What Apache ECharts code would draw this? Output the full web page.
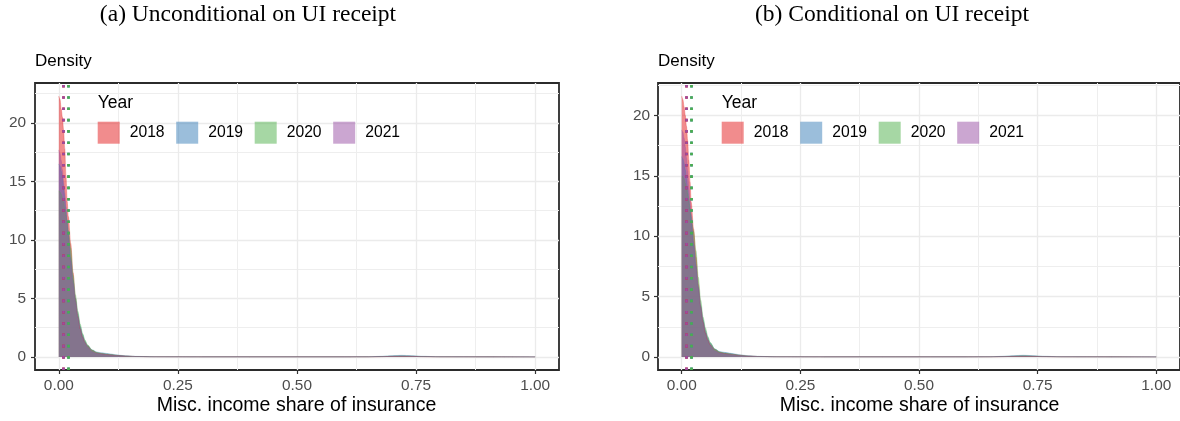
<!DOCTYPE html>
<html><head><meta charset="utf-8">
<script src="https://cdn.jsdelivr.net/npm/echarts@6/dist/echarts.min.js"></script>
<style>html,body{margin:0;padding:0;background:#fff}#c{width:1180px;height:421px}</style>
</head><body><div id="c"></div><script>
// ---------- data ----------
const years = ['2018', '2019', '2020', '2021'];
const panelTitles = ['(a) Unconditional on UI receipt', '(b) Conditional on UI receipt'];
const xTitle = 'Misc. income share of insurance';
const yTitle = 'Density';
const legendTitle = 'Year';
const xTicks = [0, 0.25, 0.5, 0.75, 1];
const xMinor = [0.125, 0.375, 0.625, 0.875];
const yTicks = [0, 5, 10, 15, 20];
const yMinor = [2.5, 7.5, 12.5, 17.5, 22.5];

// evaluation points of the density estimates
const xGrid = [0, 0.0025, 0.005, 0.0075, 0.01, 0.0125, 0.015, 0.0175, 0.02, 0.025, 0.03, 0.035, 0.04, 0.045, 0.05, 0.055, 0.06, 0.07, 0.08, 0.09, 0.1, 0.11, 0.12, 0.14, 0.16, 0.2, 0.3, 0.4, 0.5, 0.6, 0.65, 0.68, 0.7, 0.72, 0.74, 0.76, 0.8, 0.9, 1.0];

// panel (a): unconditional
const a2018 = [22.3, 22.0, 21.2, 20.5, 19.4, 17.8, 15.5, 13.3, 12.0, 9.7, 7.2, 5.0, 3.5, 2.4, 1.7, 1.25, 0.95, 0.55, 0.35, 0.28, 0.22, 0.18, 0.14, 0.08, 0.04, 0.02, 0.01, 0.01, 0.01, 0.01, 0.015, 0.03, 0.05, 0.06, 0.05, 0.03, 0.015, 0.01, 0.01];
const a2019 = [16.5, 16.3, 15.9, 15.3, 14.5, 13.6, 12.6, 11.5, 10.5, 8.5, 6.6, 5.0, 3.7, 2.6, 1.9, 1.35, 1.0, 0.6, 0.42, 0.35, 0.3, 0.25, 0.18, 0.1, 0.05, 0.02, 0.01, 0.01, 0.01, 0.01, 0.02, 0.06, 0.11, 0.14, 0.11, 0.06, 0.02, 0.01, 0.005];
const a2020 = [14.2, 14.1, 13.9, 13.6, 13.2, 12.7, 12.1, 11.5, 10.8, 9.3, 7.0, 5.3, 3.9, 2.8, 2.0, 1.45, 1.05, 0.6, 0.38, 0.3, 0.25, 0.2, 0.15, 0.08, 0.04, 0.02, 0.01, 0.01, 0.01, 0.01, 0.015, 0.04, 0.07, 0.09, 0.07, 0.04, 0.015, 0.01, 0.01];
const a2021 = [17.7, 17.4, 16.8, 16.0, 15.0, 14.0, 12.8, 11.6, 10.4, 8.2, 6.3, 4.7, 3.4, 2.4, 1.7, 1.2, 0.85, 0.45, 0.3, 0.25, 0.2, 0.16, 0.12, 0.07, 0.035, 0.015, 0.01, 0.01, 0.01, 0.01, 0.012, 0.03, 0.05, 0.06, 0.05, 0.03, 0.012, 0.01, 0.01];
const aMeans = [0.0105, 0.021, 0.021, 0.0105];

// panel (b): conditional
const b2018 = [21.6, 21.3, 20.7, 20.0, 19.1, 17.9, 16.3, 14.5, 12.8, 10.6, 8.3, 6.0, 4.2, 2.9, 2.0, 1.4, 1.0, 0.6, 0.38, 0.3, 0.25, 0.2, 0.15, 0.08, 0.04, 0.02, 0.01, 0.01, 0.01, 0.01, 0.015, 0.03, 0.05, 0.06, 0.05, 0.03, 0.015, 0.01, 0.01];
const b2019 = [16.6, 16.4, 16.0, 15.5, 14.8, 14.0, 13.1, 12.2, 11.2, 9.3, 7.5, 5.8, 4.3, 3.1, 2.2, 1.6, 1.15, 0.65, 0.45, 0.38, 0.32, 0.26, 0.19, 0.1, 0.05, 0.02, 0.01, 0.01, 0.01, 0.01, 0.02, 0.06, 0.11, 0.14, 0.11, 0.06, 0.02, 0.01, 0.005];
const b2020 = [15.0, 14.9, 14.7, 14.4, 14.0, 13.5, 12.9, 12.3, 11.6, 10.4, 8.8, 6.6, 4.7, 3.3, 2.4, 1.7, 1.2, 0.65, 0.4, 0.32, 0.27, 0.21, 0.16, 0.08, 0.04, 0.02, 0.01, 0.01, 0.01, 0.01, 0.015, 0.04, 0.07, 0.09, 0.07, 0.04, 0.015, 0.01, 0.01];
const b2021 = [18.8, 18.6, 18.1, 17.4, 16.5, 15.4, 14.2, 13.0, 11.8, 9.6, 7.6, 5.7, 4.1, 2.9, 2.0, 1.4, 1.0, 0.5, 0.32, 0.26, 0.21, 0.17, 0.13, 0.07, 0.035, 0.015, 0.01, 0.01, 0.01, 0.01, 0.012, 0.03, 0.05, 0.06, 0.05, 0.03, 0.012, 0.01, 0.01];
const bMeans = [0.0126, 0.023, 0.023, 0.0126];

// ---------- styling ----------
const SANS = '"Liberation Sans", Arial, Helvetica, sans-serif';
const SERIF = '"Liberation Serif", "Times New Roman", serif';
const fills = ['rgba(228,26,28,0.5)', 'rgba(55,126,184,0.5)', 'rgba(77,175,74,0.5)', 'rgba(152,78,163,0.5)'];
const solid = ['#E41A1C', '#377EB8', '#4DAF4A', '#984EA3'];

const panels = [
  { dens: [a2018, a2019, a2020, a2021], means: aMeans, title: panelTitles[0],
    left: 35, width: 524, ymin: -1.115, ymax: 23.415, titleX: 248, legendX: 97.7, yLabelMargin: 9 },
  { dens: [b2018, b2019, b2020, b2021], means: bMeans, title: panelTitles[1],
    left: 658, width: 524, ymin: -1.08, ymax: 22.68, titleX: 892, legendX: 721.7, yLabelMargin: 8 }
];

const grid = [], xAxis = [], yAxis = [], series = [], legend = [], graphic = [];
const tickStyle = { color: '#333333', width: 1.2 };

panels.forEach((p, gi) => {
  grid.push({ left: p.left, width: p.width, top: 83, bottom: 51, show: true,
    borderColor: '#2b2b2b', borderWidth: 1.8, backgroundColor: 'transparent' });

  xAxis.push({ type: 'value', gridIndex: gi, position: 'bottom', min: -0.05, max: 1.05,
    axisLine: { show: false, onZero: false },
    axisTick: { show: true, customValues: xTicks, length: 4, lineStyle: tickStyle },
    axisLabel: { customValues: xTicks, formatter: v => v.toFixed(2), color: '#4D4D4D',
      fontSize: 15.4, fontFamily: SANS, margin: 8 },
    splitLine: { show: true, lineStyle: { color: '#EBEBEB', width: 1.3 } } });
  xAxis.push({ type: 'value', gridIndex: gi, position: 'top', min: -0.05, max: 1.05,
    axisLine: { show: false, onZero: false },
    axisTick: { show: false, customValues: xMinor },
    axisLabel: { show: false, customValues: xMinor },
    splitLine: { show: true, lineStyle: { color: '#EEEEEE', width: 1 } } });

  yAxis.push({ type: 'value', gridIndex: gi, position: 'left', min: p.ymin, max: p.ymax,
    axisLine: { show: false, onZero: false },
    axisTick: { show: true, customValues: yTicks, length: 4, lineStyle: tickStyle },
    axisLabel: { customValues: yTicks, color: '#4D4D4D', fontSize: 15.4, fontFamily: SANS, margin: p.yLabelMargin },
    splitLine: { show: true, lineStyle: { color: '#EBEBEB', width: 1.3 } } });
  yAxis.push({ type: 'value', gridIndex: gi, position: 'right', min: p.ymin, max: p.ymax,
    axisLine: { show: false, onZero: false },
    axisTick: { show: false, customValues: yMinor },
    axisLabel: { show: false, customValues: yMinor },
    splitLine: { show: true, lineStyle: { color: '#EEEEEE', width: 1 } } });

  years.forEach((y, i) => {
    series.push({ type: 'line', name: y, xAxisIndex: 2 * gi, yAxisIndex: 2 * gi,
      data: xGrid.map((x, k) => [x, p.dens[i][k]]),
      symbol: 'none', showSymbol: false, smooth: 0.3, smoothMonotone: 'x',
      color: fills[i], lineStyle: { color: fills[i], width: 0.6 },
      areaStyle: { color: fills[i], opacity: 1 }, silent: true, animation: false, z: 2 });
  });
  series.push({ type: 'line', name: 'means', xAxisIndex: 2 * gi, yAxisIndex: 2 * gi, data: [],
    z: 20, zlevel: 0, animation: false, silent: true,
    markLine: { silent: true, z: 20, symbol: ['none', 'none'], label: { show: false }, animation: false,
      data: p.means.map((m, i) => ({ xAxis: m, lineStyle: { color: solid[i], type: [2.6, 8.7], width: 2.6, opacity: 1 } })) } });

  legend.push({ data: years.map((y, i) => ({ name: y, icon: 'rect', itemStyle: { color: fills[i], borderWidth: 0 } })),
    left: p.legendX, top: 121.7, padding: 0, orient: 'horizontal', itemWidth: 22, itemHeight: 22,
    itemGap: 11.6, selectedMode: false,
    textStyle: { fontSize: 15.7, color: '#000', fontFamily: SANS, padding: [0, 0, 0, 5] } });

  graphic.push({ type: 'text', x: p.titleX, y: 15, silent: true,
    style: { text: p.title, fontSize: 23.5, fontFamily: SERIF, fill: '#000', align: 'center', verticalAlign: 'middle' } });
  graphic.push({ type: 'text', x: p.left, y: 61.7, silent: true,
    style: { text: yTitle, fontSize: 17, fontFamily: SANS, fill: '#000', align: 'left', verticalAlign: 'middle' } });
  graphic.push({ type: 'text', x: p.left + 261.5, y: 406, silent: true,
    style: { text: xTitle, fontSize: 19.5, fontFamily: SANS, fill: '#000', align: 'center', verticalAlign: 'middle' } });
  graphic.push({ type: 'text', x: p.legendX, y: 103.5, silent: true, z: 10,
    style: { text: legendTitle, fontSize: 17.5, fontFamily: SANS, fill: '#000', align: 'left', verticalAlign: 'middle' } });
});

const chart = echarts.init(document.getElementById('c'), null, { renderer: 'canvas' });
chart.setOption({ animation: false, backgroundColor: '#fff', grid, xAxis, yAxis, series, legend, graphic });
</script></body></html>
